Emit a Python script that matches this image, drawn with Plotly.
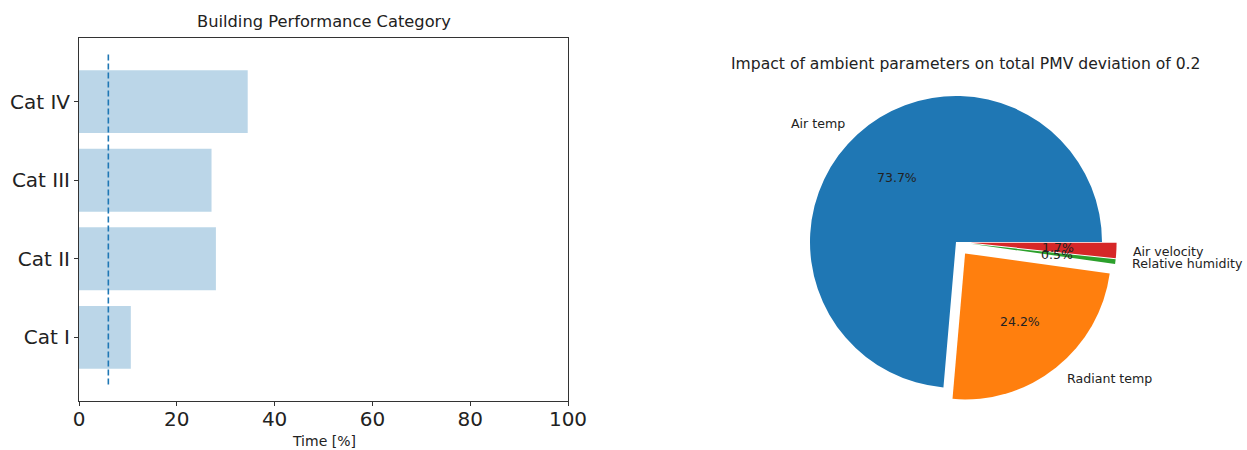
import math
import plotly.graph_objects as go

# ---- data -------------------------------------------------------------
categories = ["Cat I", "Cat II", "Cat III", "Cat IV"]
time_share = [10.6, 28.0, 27.1, 34.5]          # % of time in each category
threshold = 6.0                                 # reference line on the bar chart
threshold_span = [-0.6, 3.6]                    # vertical extent of the reference line

pie_labels = ["Air temp", "Radiant temp", "Relative humidity", "Air velocity"]
pie_values = [73.7, 24.2, 0.5, 1.7]
pie_pull = [0.0, 0.1, 0.1, 0.1]
pie_colors = ["#1f77b4", "#ff7f0e", "#2ca02c", "#d62728"]

x_ticks = [0, 20, 40, 60, 80, 100]

# ---- layout geometry (pixels; figure is 1247 x 450, no margins) -------
W, H = 1247, 450
FONT = "DejaVu Sans"
TXT = "#222222"
AX = "#333333"

bar_x_dom = [79 / W, 568 / W]
bar_y_dom = [1 - 401 / H, 1 - 38 / H]

pie_cx, pie_cy, pie_r = 956, 242, 146
max_pull = max(pie_pull)
half = pie_r * (1 + max_pull)
pie_x_dom = [(pie_cx - half) / W, (pie_cx + half) / W]
pie_y_dom = [1 - (pie_cy + half) / H, 1 - (pie_cy - half) / H]

# overlay axes for the wedge texts, scaled so that one unit = pie radius
ov_left, ov_right = 690, 1245
ov_x_dom = [ov_left / W, ov_right / W]
ov_x_range = [(ov_left - pie_cx) / pie_r, (ov_right - pie_cx) / pie_r]
ov_y_dom = [0, 1]
ov_y_range = [(pie_cy - H) / pie_r, pie_cy / pie_r]

fig = go.Figure()

# horizontal bars
fig.add_trace(go.Bar(
    x=time_share, y=categories, orientation="h", width=0.8,
    marker=dict(color="rgba(31,119,180,0.3)", line=dict(width=0)),
    xaxis="x", yaxis="y", showlegend=False, hoverinfo="x+y",
))

# dashed reference line
fig.add_trace(go.Scatter(
    x=[threshold, threshold], y=threshold_span, mode="lines",
    line=dict(color="#1f77b4", width=1.6, dash="6px,3px"),
    xaxis="x", yaxis="y3", showlegend=False, hoverinfo="skip",
))

# pie: first wedge starts at 3 o'clock and runs counter-clockwise
total = sum(pie_values)
first_deg = pie_values[0] / total * 360
fig.add_trace(go.Pie(
    labels=pie_labels, values=pie_values, pull=pie_pull, sort=False,
    direction="counterclockwise", rotation=90 - first_deg,
    marker=dict(colors=pie_colors, line=dict(width=0)),
    textinfo="none", showlegend=False, automargin=False,
    domain=dict(x=pie_x_dom, y=pie_y_dom),
))

# wedge text positions (in units of the pie radius)
annotations = []
pts_x, pts_y = [], []
start = 0.0
for lab, val, pull in zip(pie_labels, pie_values, pie_pull):
    span = val / total * 360
    mid = math.radians(start + span / 2)
    start += span
    c, s = math.cos(mid), math.sin(mid)
    ox, oy = pull * c, pull * s
    # percentage inside the wedge
    px, py = ox + 0.6 * c, oy + 0.6 * s
    annotations.append(dict(
        x=px, y=py, xref="x2", yref="y2", text=f"{val:.1f}%", showarrow=False,
        xanchor="center", yanchor="middle", font=dict(family=FONT, size=12.5, color=TXT),
    ))
    # name outside the wedge
    lx, ly = ox + 1.1 * c, oy + 1.1 * s
    annotations.append(dict(
        x=lx, y=ly, xref="x2", yref="y2", text=lab, showarrow=False,
        xanchor="left" if lx > 0 else "right", yanchor="middle",
        font=dict(family=FONT, size=12.6, color=TXT),
    ))
    pts_x += [px, lx]
    pts_y += [py, ly]

# invisible anchor points to keep the overlay axes alive
fig.add_trace(go.Scatter(
    x=pts_x, y=pts_y, mode="markers", marker=dict(opacity=0, size=1),
    xaxis="x2", yaxis="y2", showlegend=False, hoverinfo="skip",
))

# titles
annotations += [
    dict(x=(bar_x_dom[0] + bar_x_dom[1]) / 2, y=1 - 22 / H, xref="paper", yref="paper",
         text="Building Performance Category", showarrow=False,
         xanchor="center", yanchor="middle", font=dict(family=FONT, size=16.3, color=TXT)),
    dict(x=(bar_x_dom[0] + bar_x_dom[1]) / 2, y=1 - 441 / H, xref="paper", yref="paper",
         text="Time [%]", showarrow=False,
         xanchor="center", yanchor="middle", font=dict(family=FONT, size=14, color=TXT)),
    dict(x=966 / W, y=1 - 64 / H, xref="paper", yref="paper",
         text="Impact of ambient parameters on total PMV deviation of 0.2", showarrow=False,
         xanchor="center", yanchor="middle", font=dict(family=FONT, size=15.6, color=TXT)),
]

y_range = [-0.81, 3.81]
fig.update_layout(
    width=W, height=H, margin=dict(l=0, r=0, t=0, b=0, autoexpand=False),
    paper_bgcolor="white", plot_bgcolor="white",
    font=dict(family=FONT, color=TXT),
    annotations=annotations, showlegend=False,
    xaxis=dict(
        domain=bar_x_dom, range=[0, 100], tickvals=x_ticks, showgrid=False, zeroline=False,
        showline=True, linecolor=AX, linewidth=1, mirror=True, automargin=False,
        ticks="outside", ticklen=4, tickcolor=AX, tickfont=dict(family=FONT, size=20, color=TXT),
        ticklabelstandoff=-4, anchor="y",
    ),
    yaxis=dict(
        domain=bar_y_dom, type="category", categoryorder="array", categoryarray=categories,
        range=y_range, showgrid=False, zeroline=False, automargin=False,
        showline=True, linecolor=AX, linewidth=1, mirror=True,
        ticks="outside", ticklen=4, tickcolor=AX, tickfont=dict(family=FONT, size=20, color=TXT),
        anchor="x",
    ),
    yaxis3=dict(
        domain=bar_y_dom, range=y_range, overlaying="y", visible=False, anchor="x",
        automargin=False,
    ),
    xaxis2=dict(domain=ov_x_dom, range=ov_x_range, visible=False,
                anchor="y2", fixedrange=True, automargin=False),
    yaxis2=dict(domain=ov_y_dom, range=ov_y_range, visible=False,
                anchor="x2", fixedrange=True, automargin=False),
)

fig.write_html("out.html")
